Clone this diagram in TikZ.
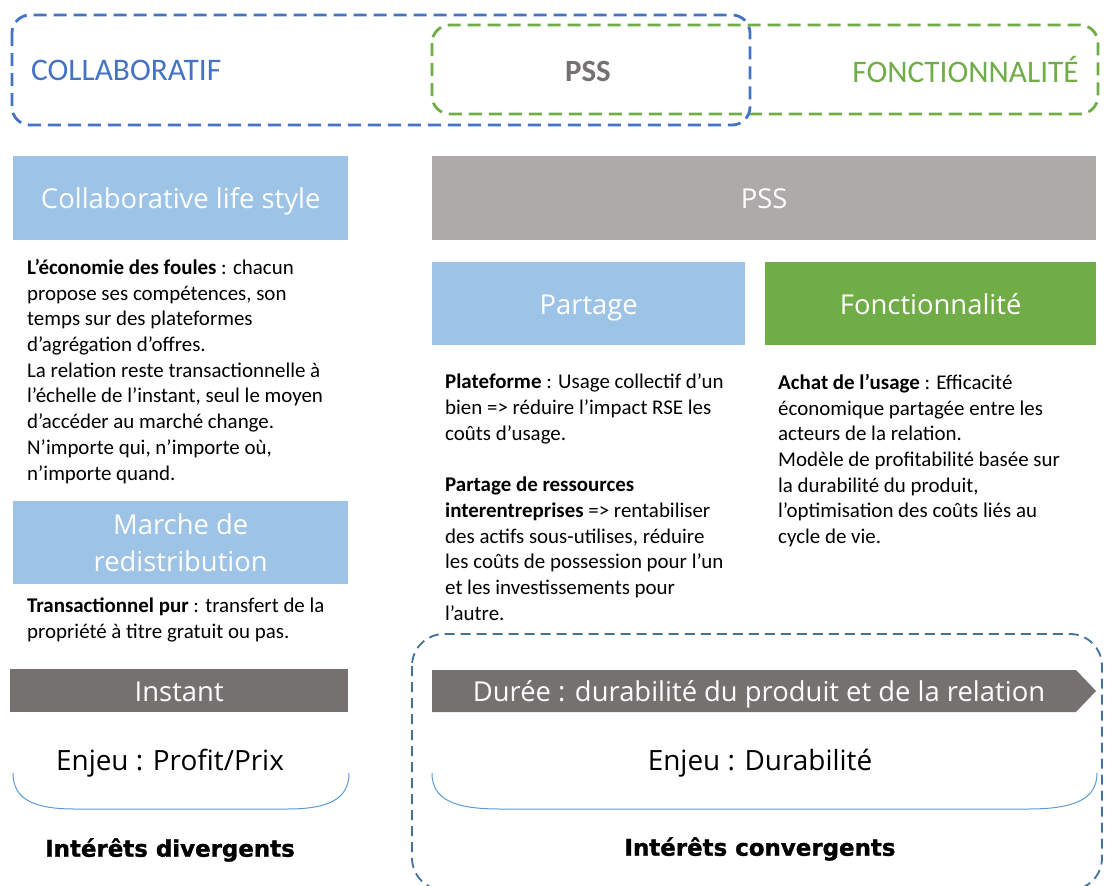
\documentclass[tikz,border=0pt]{standalone}
\usepackage{fontspec}
\setmainfont{Carlito}
\newfontfamily\headfont{Open Sans}
\newfontfamily\blackfont[BoldFont={DejaVu Sans Bold}, BoldFeatures={FakeBold=1.3}]{DejaVu Sans}
\definecolor{lblue}{RGB}{157,195,230}
\definecolor{pssgray}{RGB}{174,170,170}
\definecolor{dgray}{RGB}{118,113,113}
\definecolor{fgreen}{RGB}{112,173,71}
\definecolor{cblue}{RGB}{68,114,196}
\definecolor{slate}{RGB}{65,113,156}
\definecolor{curveblue}{RGB}{91,155,213}
\begin{document}
\begin{tikzpicture}[x=1bp,y=-1bp,
  hbox/.style={anchor=north west, inner sep=0pt, text=white,
    text height=27bp, text depth=6bp,
    font=\headfont\fontsize{27.5}{32}\selectfont},
  body/.style={anchor=north west, inner sep=0pt, align=left,
    font=\fontsize{21}{25.8}\selectfont},
  topdash/.style={line width=2.8bp, dash pattern=on 13bp off 7bp, rounded corners=18bp},
  enjeu/.style={inner sep=0pt, font=\headfont\fontsize{28}{32}\selectfont},
  interet/.style={inner sep=0pt, font=\blackfont\bfseries\fontsize{23}{28}\selectfont},
  bracket/.style={draw=curveblue, line width=1bp}
]
\useasboundingbox (0,0) rectangle (1116,886);
\clip (0,0) rectangle (1116,886);

% top dashed groups
\draw[topdash, draw=fgreen] (432,25) rectangle (1098,114);
\draw[topdash, draw=cblue] (12,15) rectangle (750,125);
\node[anchor=west, inner sep=0pt, text=cblue, font=\fontsize{31.5}{36}\selectfont] (collab) at (31,70) {COLLABORATIF};
\node[inner sep=0pt, text=dgray, font=\bfseries\fontsize{31}{36}\selectfont] (psstop) at (588,71) {PSS};
\node[anchor=east, inner sep=0pt, text=fgreen, font=\fontsize{31.5}{36}\selectfont] (fonctop) at (1079,70) {FONCTIONNALITÉ};

% header boxes
\node[hbox, fill=lblue, minimum width=335bp, minimum height=84bp] (cls) at (13,156) {Collaborative life style};
\node[hbox, fill=pssgray, minimum width=664bp, minimum height=84bp] (pss) at (432,156) {PSS};
\node[hbox, fill=lblue, minimum width=313bp, minimum height=83bp] (part) at (432,262) {Partage};
\node[hbox, fill=fgreen, minimum width=331bp, minimum height=83bp] (fonc) at (765,262) {Fonctionnalité};
\node[anchor=north west, inner sep=0pt, text=white, fill=lblue, minimum width=335bp, minimum height=83bp, align=center,
  font=\headfont\fontsize{27.5}{38}\selectfont] (mdr) at (13,501) {Marche de\\redistribution};

% body texts
\node[body] (t1) at (27,259) {\textbf{L’économie des foules} : chacun\\
propose ses compétences, son\\
temps sur des plateformes\\
d’agrégation d’offres.\\
La relation reste transactionnelle à\\
l’échelle de l’instant, seul le moyen\\
d’accéder au marché change.\\
N’importe qui, n’importe où,\\
n’importe quand.};
\node[body] (t2) at (27,598) {\textbf{Transactionnel pur} : transfert de la\\
propriété à titre gratuit ou pas.};
\node[body] (t3) at (445,374) {\textbf{Plateforme} : Usage collectif d’un\\
bien => réduire l’impact RSE les\\
coûts d’usage.\\[25.8bp]
\textbf{Partage de ressources}\\
\textbf{interentreprises} => rentabiliser\\
des actifs sous-utilises, réduire\\
les coûts de possession pour l’un\\
et les investissements pour\\
l’autre.};
\node[body] (t4) at (778,374) {\textbf{Achat de l’usage} : Efficacité\\
économique partagée entre les\\
acteurs de la relation.\\
Modèle de profitabilité basée sur\\
la durabilité du produit,\\
l’optimisation des coûts liés au\\
cycle de vie.};

% lower left
\node[hbox, fill=dgray, minimum width=338bp, minimum height=43bp] (inst) at (10,669) {Instant};
\node[enjeu] (e1) at (170,763) {Enjeu : Profit/Prix};
\draw[bracket] (13,773) .. controls (13,800) and (35,809) .. (75,809) -- (287,809) .. controls (327,809) and (349,800) .. (349,773);
\node[interet] (i1) at (170,850) {Intérêts divergents};

% lower right
\draw[slate, line width=1.8bp, dash pattern=on 10bp off 6bp, rounded corners=32bp] (412,634) rectangle (1102,890);
\fill[dgray] (432,670) -- (1076,670) -- (1096,691) -- (1076,712) -- (432,712) -- cycle;
\node[inner sep=0pt, text=white, text height=27bp, text depth=6bp, font=\headfont\fontsize{27.5}{32}\selectfont] (duree) at (759,691) {Durée : durabilité du produit et de la relation};
\node[enjeu] (e2) at (760,763) {Enjeu : Durabilité};
\draw[bracket] (432,773) .. controls (432,800) and (455,809) .. (500,809) -- (1028,809) .. controls (1073,809) and (1097,800) .. (1097,773);
\node[interet] (i2) at (760,849) {Intérêts convergents};
\end{tikzpicture}
\end{document}
